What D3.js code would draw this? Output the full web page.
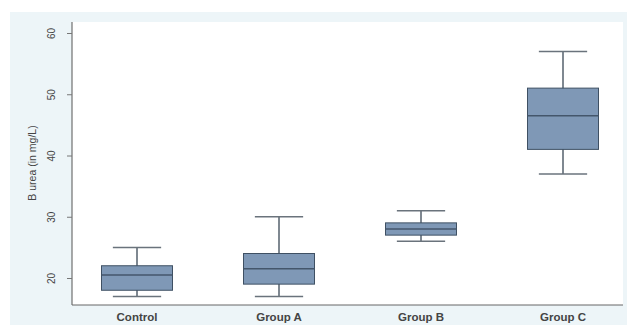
<!DOCTYPE html>
<html>
<head>
  <script src="https://d3js.org/d3.v7.min.js"></script>
  <style>
    body { margin: 0; background: #fff; }
    text { font-family: "Liberation Sans", Arial, sans-serif; }
  </style>
</head>
<body>
  <div id="chart"></div>
  <script>
    var groups = ["Control", "Group A", "Group B", "Group C"];
    var whiskerLow = [17, 17, 26, 37];
    var q1 = [18, 19, 27, 41];
    var median = [20.5, 21.5, 28, 46.5];
    var q3 = [22, 24, 29, 51];
    var whiskerHigh = [25, 30, 31, 57];
    var yTicks = [20, 30, 40, 50, 60];

    var data = groups.map(function(g, i) {
      return {name: g, lo: whiskerLow[i], q1: q1[i], med: median[i], q3: q3[i], hi: whiskerHigh[i]};
    });

    var W = 631, H = 325;
    var svg = d3.select("#chart").append("svg")
      .attr("width", W).attr("height", H);

    // outer light panel and white plot area
    svg.append("rect").attr("x", 10).attr("y", 12).attr("width", 617).attr("height", 313)
      .attr("fill", "#edf5f8");
    svg.append("rect").attr("x", 72).attr("y", 22).attr("width", 551).attr("height", 283)
      .attr("fill", "#ffffff");

    var x = d3.scaleBand()
      .domain(groups)
      .range([66, 634])
      .paddingInner(0.5)
      .paddingOuter(0.25);

    var y = d3.scaleLinear()
      .domain([20, 60])
      .range([278, 33]);

    // y axis
    var yAxis = svg.append("g")
      .attr("transform", "translate(72,0)")
      .call(d3.axisLeft(y).tickValues(yTicks).tickSize(5).tickPadding(10));
    yAxis.select(".domain").attr("d", "M0,22V305").attr("stroke", "#555");
    yAxis.selectAll(".tick line").attr("stroke", "#777");
    yAxis.selectAll(".tick text")
      .attr("fill", "#444")
      .attr("font-size", 10)
      .attr("text-anchor", "middle")
      .attr("transform", "rotate(-90,-20,0)")
      .attr("x", -20)
      .attr("dy", "0.32em");

    // x axis line
    svg.append("line")
      .attr("x1", 72).attr("x2", 623)
      .attr("y1", 305).attr("y2", 305)
      .attr("stroke", "#666");

    svg.selectAll(".xlab")
      .data(groups)
      .enter().append("text")
      .attr("class", "xlab")
      .attr("x", function(d) { return x(d) + x.bandwidth() / 2; })
      .attr("y", 321)
      .attr("text-anchor", "middle")
      .attr("font-size", 11.5)
      .attr("font-weight", "bold")
      .attr("fill", "#444")
      .text(function(d) { return d; });

    // y axis title
    svg.append("text")
      .attr("transform", "translate(36,163) rotate(-90)")
      .attr("text-anchor", "middle")
      .attr("font-size", 10.5)
      .attr("fill", "#444")
      .text("B urea (in mg/L)");

    var box = svg.selectAll(".box")
      .data(data)
      .enter().append("g")
      .attr("class", "box");

    var bw = x.bandwidth();
    var cw = bw * 0.68;

    // whiskers
    box.append("line")
      .attr("x1", function(d) { return x(d.name) + bw / 2; })
      .attr("x2", function(d) { return x(d.name) + bw / 2; })
      .attr("y1", function(d) { return y(d.hi); })
      .attr("y2", function(d) { return y(d.lo); })
      .attr("stroke", "#55606c").attr("stroke-width", 1.5);

    box.append("line")
      .attr("x1", function(d) { return x(d.name) + bw / 2 - cw / 2; })
      .attr("x2", function(d) { return x(d.name) + bw / 2 + cw / 2; })
      .attr("y1", function(d) { return y(d.hi); })
      .attr("y2", function(d) { return y(d.hi); })
      .attr("stroke", "#6a737c").attr("stroke-width", 1.5);

    box.append("line")
      .attr("x1", function(d) { return x(d.name) + bw / 2 - cw / 2; })
      .attr("x2", function(d) { return x(d.name) + bw / 2 + cw / 2; })
      .attr("y1", function(d) { return y(d.lo); })
      .attr("y2", function(d) { return y(d.lo); })
      .attr("stroke", "#6a737c").attr("stroke-width", 1.5);

    // boxes
    box.append("rect")
      .attr("x", function(d) { return x(d.name); })
      .attr("width", bw)
      .attr("y", function(d) { return y(d.q3); })
      .attr("height", function(d) { return y(d.q1) - y(d.q3); })
      .attr("fill", "#7f98b6")
      .attr("stroke", "#3f5063")
      .attr("stroke-width", 1);

    box.append("line")
      .attr("x1", function(d) { return x(d.name); })
      .attr("x2", function(d) { return x(d.name) + bw; })
      .attr("y1", function(d) { return y(d.med); })
      .attr("y2", function(d) { return y(d.med); })
      .attr("stroke", "#44566b").attr("stroke-width", 1.5);
  </script>
</body>
</html>
